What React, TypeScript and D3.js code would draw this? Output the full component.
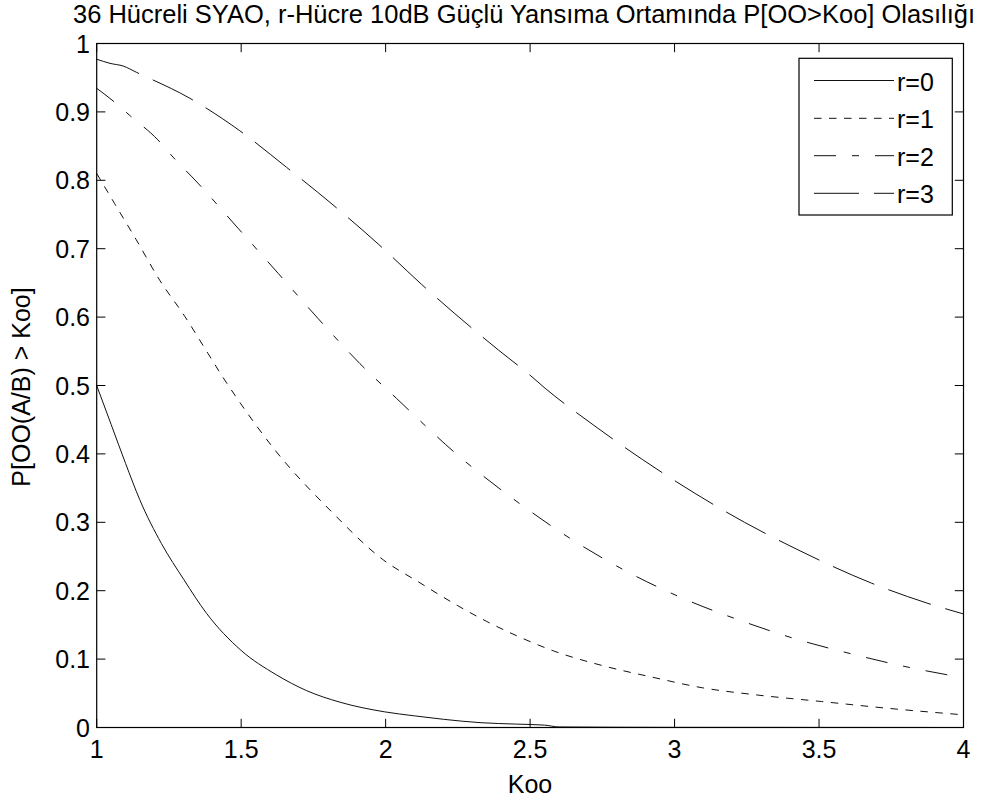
import React from "react";
import * as d3 from "d3";

const titleText = "36 Hücreli SYAO, r-Hücre 10dB Güçlü Yansıma Ortamında P[OO>Koo] Olasılığı";
const xLabel = "Koo";
const yLabel = "P[OO(A/B) > Koo]";
const xTicks = [1, 1.5, 2, 2.5, 3, 3.5, 4];
const yTicks = [0, 0.1, 0.2, 0.3, 0.4, 0.5, 0.6, 0.7, 0.8, 0.9, 1];
const seriesNames = ["r=0", "r=1", "r=2", "r=3"];

const kooR0 = [1, 1.05, 1.1, 1.149, 1.224, 1.302, 1.38, 1.499, 1.622, 1.726, 1.842, 1.995, 2.1, 2.2, 2.33, 2.45, 2.55, 2.6, 3.0, 4.0];
const probR0 = [0.5, 0.443, 0.386, 0.333, 0.269, 0.216, 0.167, 0.113, 0.077, 0.054, 0.037, 0.023, 0.017, 0.012, 0.007, 0.005, 0.0035, 0.0008, 0.0002, 0];

const kooR1 = [1, 1.062, 1.137, 1.218, 1.305, 1.385, 1.443, 1.478, 1.622, 1.807, 1.992, 2.113, 2.25, 2.35, 2.465, 2.581, 2.755, 2.929, 3.097, 3.276, 3.508, 3.74, 4.0];
const probR1 = [0.81, 0.766, 0.713, 0.654, 0.601, 0.547, 0.508, 0.486, 0.403, 0.318, 0.245, 0.213, 0.178, 0.155, 0.132, 0.112, 0.09, 0.073, 0.058, 0.048, 0.038, 0.028, 0.0185];

const kooR2 = [1, 1.057, 1.114, 1.212, 1.264, 1.35, 1.489, 1.628, 1.766, 1.911, 2.038, 2.25, 2.465, 2.674, 2.853, 3.039, 3.224, 3.415, 3.618, 3.815, 4.0];
const probR2 = [0.9345, 0.916, 0.895, 0.859, 0.834, 0.796, 0.73, 0.664, 0.598, 0.532, 0.481, 0.398, 0.327, 0.267, 0.224, 0.187, 0.157, 0.13, 0.107, 0.0876, 0.0728];

const kooR3 = [1, 1.046, 1.092, 1.137, 1.322, 1.495, 1.657, 1.818, 1.974, 2.124, 2.39, 2.5, 2.552, 2.72, 2.888, 3.068, 3.242, 3.421, 3.682, 3.873, 4.0];
const probR3 = [0.977, 0.971, 0.967, 0.958, 0.92, 0.8725, 0.819, 0.764, 0.707, 0.648, 0.552, 0.515, 0.496, 0.442, 0.392, 0.343, 0.3, 0.261, 0.211, 0.182, 0.166];

const kooSets = [kooR0, kooR1, kooR2, kooR3];
const probSets = [probR0, probR1, probR2, probR3];

export default function App() {
  const W = 1000;
  const H = 802;
  const left = 96.7;
  const right = 963.5;
  const top = 43.5;
  const bottom = 727.5;
  const font = "'Liberation Sans', Arial, Helvetica, sans-serif";
  const fs = 25;
  const tickLen = 8.7;
  const dashes = ["none", "7.5,7.5", "22,16,7,16", "45,15"];

  const x = d3.scaleLinear().domain([1, 4]).range([left, right]);
  const y = d3.scaleLinear().domain([0, 1]).range([bottom, top]);

  const line = d3
    .line<[number, number]>()
    .x((d) => x(d[0]))
    .y((d) => y(d[1]))
    .curve(d3.curveMonotoneX);

  const legendRows = [80.5, 118.3, 155.7, 193.3];

  return (
    <svg
      width={W}
      height={H}
      style={{ position: "absolute", left: 0, top: 0, background: "#fff" }}
      fontFamily={font}
    >
      <rect x={0} y={0} width={W} height={H} fill="#fff" />
      <g>
        {kooSets.map((ks, i) => {
          const pts: [number, number][] = ks.map((k, j) => [k, probSets[i][j]]);
          return (
            <path
              key={i}
              d={line(pts) || ""}
              fill="none"
              stroke="#111"
              strokeWidth={1}
              strokeDasharray={dashes[i]}
            />
          );
        })}
      </g>
      <rect x={left} y={top} width={right - left} height={bottom - top} fill="none" stroke="#000" strokeWidth={1.2} />
      {xTicks.map((t) => (
        <g key={"xt" + t}>
          <line x1={x(t)} x2={x(t)} y1={bottom} y2={bottom - tickLen} stroke="#000" strokeWidth={1} />
          <line x1={x(t)} x2={x(t)} y1={top} y2={top + tickLen} stroke="#000" strokeWidth={1} />
          <text x={x(t)} y={758} fontSize={fs} textAnchor="middle" fill="#000">
            {String(t)}
          </text>
        </g>
      ))}
      {yTicks.map((t) => (
        <g key={"yt" + t}>
          <line x1={left} x2={left + tickLen} y1={y(t)} y2={y(t)} stroke="#000" strokeWidth={1} />
          <line x1={right} x2={right - tickLen} y1={y(t)} y2={y(t)} stroke="#000" strokeWidth={1} />
          <text x={90} y={y(t) + 9} fontSize={fs} textAnchor="end" fill="#000">
            {String(t)}
          </text>
        </g>
      ))}
      <text x={524} y={23} fontSize={25.5} textAnchor="middle" fill="#000">
        {titleText}
      </text>
      <text x={530} y={793} fontSize={fs} textAnchor="middle" fill="#000">
        {xLabel}
      </text>
      <text transform={`translate(29.5,387) rotate(-90)`} fontSize={fs} textAnchor="middle" fill="#000">
        {yLabel}
      </text>
      <rect x={799} y={58.3} width={153.3} height={156.7} fill="#fff" stroke="#000" strokeWidth={1.2} />
      {seriesNames.map((n, i) => (
        <g key={n}>
          <line
            x1={814}
            x2={894}
            y1={legendRows[i]}
            y2={legendRows[i]}
            stroke="#111"
            strokeWidth={1}
            strokeDasharray={dashes[i]}
          />
          <text x={897} y={legendRows[i] + 10} fontSize={fs} fill="#000">
            {n}
          </text>
        </g>
      ))}
    </svg>
  );
}
